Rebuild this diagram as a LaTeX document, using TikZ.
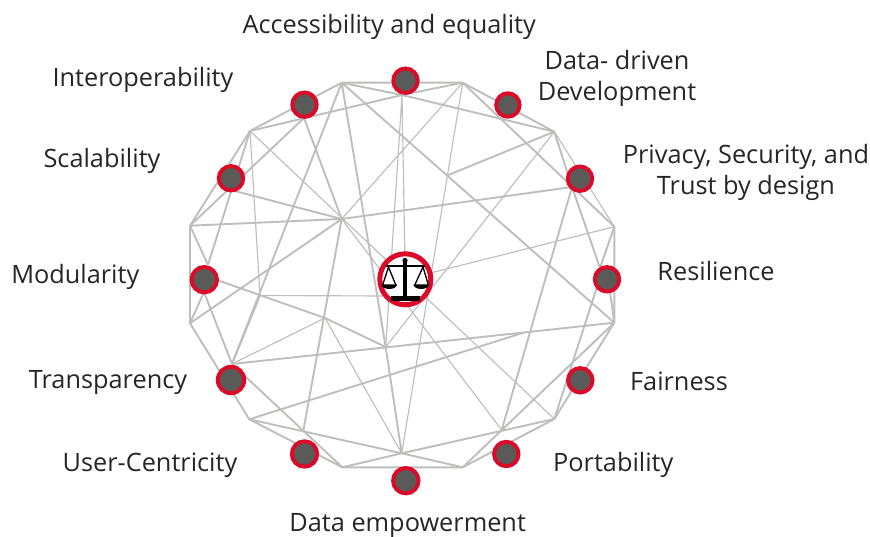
\documentclass[tikz,border=0pt]{standalone}
\usepackage{fontspec}
\setmainfont{Open Sans}
\definecolor{edge}{HTML}{BEBEBC}
\definecolor{hubred}{HTML}{DC0A28}
\definecolor{hubgrey}{HTML}{5A5A58}
\definecolor{labelc}{HTML}{262626}
\tikzset{
  thinedge/.style={draw=edge,line width=1.15pt},
  thickedge/.style={draw=edge,line width=1.9pt},
  hub/.style={circle,draw=hubred,fill=hubgrey,line width=3.9pt,minimum size=24.5pt,inner sep=0pt},
  lab/.style={font=\fontsize{25.3}{31}\selectfont,text=labelc,anchor=base,inner sep=0pt},
  mlab/.style={font=\fontsize{25.3}{31}\selectfont,text=labelc,align=center,inner sep=0pt},
  centre/.style={circle,draw=hubred,fill=white,line width=5pt,minimum size=51pt,inner sep=0pt}
}
\begin{document}
\begin{tikzpicture}[x=1pt,y=-1pt]
\useasboundingbox (0,0) rectangle (870,537);
% outer polygon corners
\coordinate (A) at (341.7,82.7);
\coordinate (B) at (250,131);
\coordinate (C) at (190,225.7);
\coordinate (D) at (190,323.3);
\coordinate (E) at (249.3,419.3);
\coordinate (F) at (342.3,467.3);
\coordinate (G) at (462.7,467.3);
\coordinate (H) at (554.3,419);
\coordinate (I) at (614.3,322.7);
\coordinate (J) at (614.3,226.7);
\coordinate (K) at (554.3,131.7);
\coordinate (L) at (462.7,82.7);
% inner junctions
\coordinate (P) at (341.7,219);
\coordinate (Q) at (385.7,347);
\coordinate (R) at (260,295.5);
\coordinate (S) at (325,318);
\coordinate (T) at (401.7,453.3);
\coordinate (U) at (303.2,431.5);
\coordinate (V) at (526.7,331.7);
\coordinate (W) at (501.7,430);
\coordinate (X) at (402,95);
\coordinate (Y) at (448.3,175);
% node attachment points
\coordinate (iob) at (304,118);
\coordinate (scb) at (231,190);
\coordinate (mot) at (208,265);
\coordinate (mob) at (204,292);
\coordinate (mor) at (217,280);
\coordinate (trt) at (232,364);
\coordinate (prb) at (572,187);
\coordinate (ret) at (600,268);
\coordinate (reb) at (597,287);
\coordinate (rer) at (610,292);
\coordinate (hubl) at (385,296);
\coordinate (hub0) at (405.3,279.3);
% outer ring
\draw[thickedge] (A)--(L)--(K) (J)--(I) (H)--(G)--(F)--(E)--(D)--(C)--(B)--(A);
\draw[thinedge] (K)--(J);
\draw[thickedge] (I)--(H);
% thick inner
\draw[thickedge] (L)--(J) (A)--(I) (A)--(Q) (A)--(trt) (A)--(X) (L)--(X);
\draw[thickedge] (B)--(X) (K)--(X) (K)--(Y);
\draw[thickedge] (C)--(iob) (C)--(P) (P)--(prb) (iob)--(P) (scb)--(P);
\draw[thickedge] (B)--(mot) (C)--(mot) (D)--(mob) (mob)--(trt);
\draw[thickedge] (D)--(P) (P)--(U) (R)--(trt);
\draw[thickedge] (mor)--(S)--(Q);
\draw[thickedge] (trt)--(I) (E)--(V) (prb)--(W) (I)--(G) (H)--(T) (E)--(T) (F)--(T) (T)--(G) (Q)--(T);
\draw[thickedge] (prb)--(ret) (K)--(prb) (J)--(ret) (rer)--(I) (reb)--(H) (trt)--(F);
% thin inner
\draw[thinedge] (B)--(R) (R)--(hubl) (B)--(H) (L)--(P) (P)--(W) (X)--(Q) (X)--(hub0) (L)--(T) (K)--(Q) (J)--(hub0) (trt)--(S) (S)--(T);
% hubs
\node[centre] (hub) at (hub0) {};
\node[hub] (n1) at (405.5,80.7) {};
\node[hub,minimum size=23.5pt] (n2) at (507.9,105) {};
\node[hub] (n3) at (580,178.7) {};
\node[hub] (n4) at (607,279.3) {};
\node[hub] (n5) at (580.3,380.3) {};
\node[hub] (n6) at (506.3,454) {};
\node[hub,minimum size=25.5pt] (n7) at (405.8,480.7) {};
\node[hub,minimum size=25.5pt] (n8) at (304.5,454) {};
\node[hub,minimum size=26.5pt] (n9) at (231,380) {};
\node[hub,minimum size=25.5pt] (n10) at (204.3,279.7) {};
\node[hub] (n11) at (231,178.3) {};
\node[hub] (n12) at (304.5,104.7) {};
% scales icon
\fill[black] (391,296) rectangle (419.5,301);
\fill[black] (402.8,262) rectangle (407.2,297);
\fill[black] (405,260.5) circle (2.6);
\draw[black,line width=2pt] (386,266.5)--(425,266.5);
\draw[black,line width=1.3pt] (382.5,285.5)--(388.5,267)--(396,285.5) (414.5,285.5)--(423,267)--(428.5,285.5);
\fill[black] (381.5,284.5) -- (397,284.5) arc[start angle=0,end angle=-180,x radius=7.75,y radius=-4.5] -- cycle;
\fill[black] (413.5,284.5) -- (429,284.5) arc[start angle=0,end angle=-180,x radius=7.75,y radius=-4.5] -- cycle;
% labels
\node[lab] (l1) at (389.2,33.7) {Accessibility and equality};
\node[mlab] (l2) at (617,78) {Data- driven\\Development};
\node[mlab] (l3) at (746,172) {Privacy, Security, and\\Trust by design};
\node[lab] (l4) at (716,280.7) {Resilience};
\node[lab] (l5) at (679,390) {Fairness};
\node[lab] (l6) at (613.3,471) {Portability};
\node[lab] (l7) at (407.7,531) {Data empowerment};
\node[lab] (l8) at (150,471) {User-Centricity};
\node[lab] (l9) at (108,388) {Transparency};
\node[lab] (l10) at (75.3,283.5) {Modularity};
\node[lab] (l11) at (102,167.7) {Scalability};
\node[lab] (l12) at (143,86.7) {Interoperability};
\end{tikzpicture}
\end{document}
